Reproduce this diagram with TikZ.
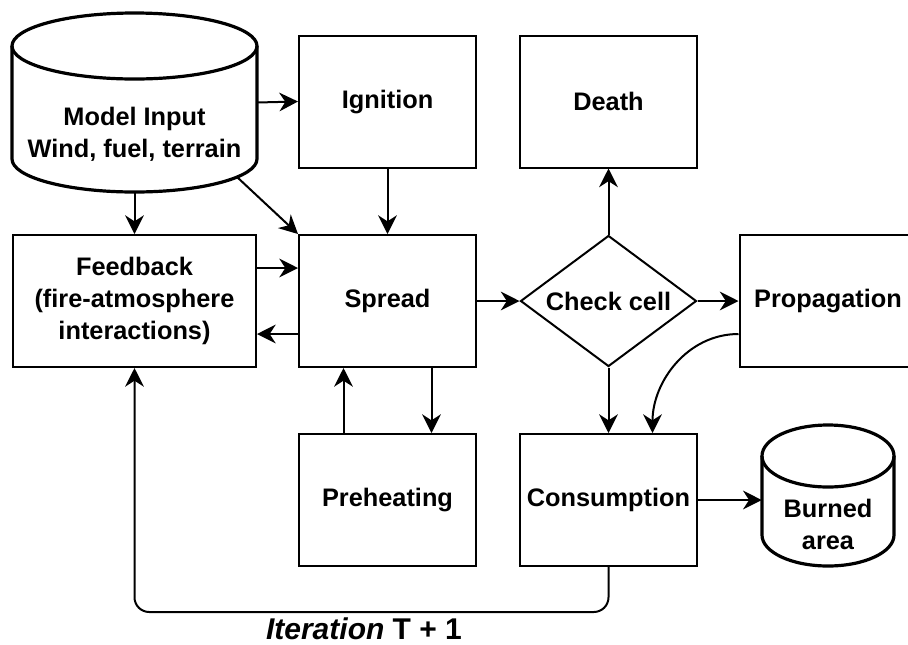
\documentclass[tikz,border=0pt]{standalone}
\usepackage{fontspec}
\setmainfont{Liberation Sans}
\usetikzlibrary{shapes.geometric,arrows.meta}

\begin{document}
\begin{tikzpicture}[x=0.75pt,y=-0.75pt,
                    box/.style={draw,line width=1.5pt,minimum width=132.75pt,minimum height=99pt,inner sep=0pt,align=center},
                    flow/.style={line width=1.5pt,-{Stealth[length=14pt,width=14pt,inset=4.5pt]}},
                    drum/.style={line width=2.4pt},
                    rim/.style={inner sep=0pt,align=center}]
                    \useasboundingbox (0,0) rectangle (908,644);
                    \clip (0,0) rectangle (908,644);
                    {\fontsize{19}{24}\selectfont\bfseries

                    % Drawing cylinder Model Input
                    \draw [drum] (12,46) -- (12,159) arc[start angle=180,end angle=360,x radius=91.875pt,y radius=24.75pt] -- (257,46);%
                    \draw [drum] (134.5,46) ellipse[x radius=91.875pt,y radius=24.75pt];%
                    \node [rim,minimum width=183.75pt,minimum height=134.25pt] (input) at (134.5,102.5) {};%
                    \node [rim] (inputtext) at (134.5,134) {Model Input\\Wind, fuel, terrain};%
                    \coordinate (inputrim) at (237,177);%

                    % Drawing cylinder Burned area
                    \draw [drum] (762,456) -- (762,535) arc[start angle=180,end angle=360,x radius=49.5pt,y radius=23.25pt] -- (894,456);%
                    \draw [drum] (828,456) ellipse[x radius=49.5pt,y radius=23.25pt];%
                    \node [rim,minimum width=99pt,minimum height=105.75pt] (burned) at (828,495.5) {};%
                    \node [rim] (burnedtext) at (828,524) {Burned\\area};%

                    % Drawing boxes
                    \node [box] (ignition) at (387.5,101.5) {Ignition};%
                    \node [box] (death) at (608.5,101.5) {Death};%
                    \node [box,minimum width=182.25pt] (feedback) at (134.5,301) {Feedback\\(fire-atmosphere\\interactions)};%
                    \node [box] (spread) at (387.5,301) {Spread};%
                    \node [draw,line width=1.5pt,shape=diamond,minimum width=132pt,minimum height=98.25pt,inner sep=0pt,aspect=1.35] (check) at (608.5,301) {Check cell};%
                    \node [box] (prop) at (828,301) {Propagation};%
                    \node [box] (preheat) at (387.5,500) {Preheating};%
                    \node [box] (consumption) at (608.5,500) {Consumption};%

                    % Drawing arrows
                    \draw [flow] (input.east) -- (ignition.west);%
                    \draw [flow] (input.south) -- (feedback.north);%
                    \draw [flow] (inputrim) -- (spread.north west);%
                    \draw [flow] (ignition.south) -- (spread.north);%
                    \draw [flow] ([yshift=24.75pt]feedback.east) -- ([yshift=24.75pt]spread.west);%
                    \draw [flow] ([yshift=-24.75pt]spread.west) -- ([yshift=-24.75pt]feedback.east);%
                    \draw [flow] (spread.east) -- (check.west);%
                    \draw [flow] (check.north) -- (death.south);%
                    \draw [flow] (check.east) -- (prop.west);%
                    \draw [flow] (check.south) -- (consumption.north);%
                    \draw [flow] ([yshift=-24.75pt]prop.west) to[out=180,in=90] ([xshift=33pt]consumption.north);%
                    \draw [flow] ([xshift=-33pt]preheat.north) -- ([xshift=-33pt]spread.south);%
                    \draw [flow] ([xshift=33pt]spread.south) -- ([xshift=33pt]preheat.north);%
                    \draw [flow] (consumption.east) -- (consumption.east -| burned.west);%

                    % Drawing loop back to Feedback
                    \draw [flow,rounded corners=11pt] (consumption.south) -- ++(0,45) -| (feedback.south);%
                    \node [anchor=base,font=\fontsize{22.5}{27}\selectfont] (iteration) at (364,639) {{\itshape Iteration} T + 1};%
                    }
                \end{tikzpicture}
\end{document}
